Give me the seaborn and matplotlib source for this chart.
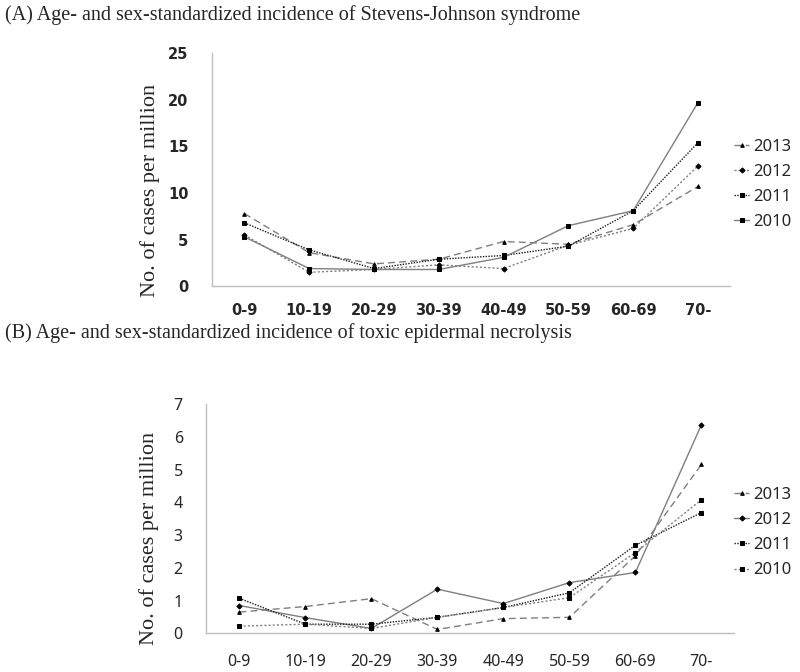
import numpy as np
import pandas as pd
import matplotlib
matplotlib.use("Agg")
import matplotlib.pyplot as plt
import seaborn as sns

# age groups and years
age_groups = ["0-9", "10-19", "20-29", "30-39", "40-49", "50-59", "60-69", "70-"]
years = ["2013", "2012", "2011", "2010"]

# (A) Stevens-Johnson syndrome, cases per million
sjs_2013 = [7.8, 3.6, 2.4, 2.9, 4.8, 4.5, 6.6, 10.7]
sjs_2012 = [5.5, 1.5, 1.8, 2.3, 1.9, 4.4, 6.2, 12.9]
sjs_2011 = [6.8, 3.9, 1.9, 2.9, 3.3, 4.3, 8.1, 15.4]
sjs_2010 = [5.3, 1.9, 1.8, 1.8, 3.1, 6.5, 8.1, 19.7]

# (B) toxic epidermal necrolysis, cases per million
ten_2013 = [0.65, 0.82, 1.06, 0.12, 0.45, 0.49, 2.37, 5.16]
ten_2012 = [0.85, 0.48, 0.15, 1.35, 0.91, 1.55, 1.86, 6.37]
ten_2011 = [1.07, 0.28, 0.28, 0.49, 0.79, 1.24, 2.69, 3.69]
ten_2010 = [0.22, 0.28, 0.15, 0.49, 0.79, 1.09, 2.47, 4.08]


def long_table(series):
    rows = []
    for year, vals in zip(years, series):
        for i, v in enumerate(vals):
            rows.append({"pos": i, "year": year, "value": v})
    return pd.DataFrame(rows)


sns.set_style("white")
plt.rcParams["font.family"] = ["Noto Sans", "DejaVu Sans"]

fig = plt.figure(figsize=(8, 6.72), dpi=100)
axA = fig.add_axes([0.265, 0.574, 0.648, 0.347])
axB = fig.add_axes([0.258, 0.0575, 0.66, 0.341])

GRAY = "#7f7f7f"
BLACK = "#1a1a1a"

# styles per panel: (color, dashes, marker)
styleA = {
    "2013": (GRAY, (5, 3), "^"),
    "2012": (GRAY, (1.5, 1.5), "D"),
    "2011": (BLACK, (1, 1), "s"),
    "2010": (GRAY, "", "s"),
}
styleB = {
    "2013": (GRAY, (5, 3), "^"),
    "2012": (GRAY, "", "D"),
    "2011": (BLACK, (1, 1), "s"),
    "2010": (GRAY, (1.5, 1.5), "s"),
}


def draw(ax, series, styles, ymax, ystep, bold, ticksize, xlabpad, legend_y, ylab_xy):
    df = long_table(series)
    sns.lineplot(data=df, x="pos", y="value", hue="year", style="year",
                 hue_order=years, style_order=years,
                 palette={y: styles[y][0] for y in years},
                 dashes={y: styles[y][1] for y in years},
                 markers={y: styles[y][2] for y in years},
                 markersize=2.6, markeredgecolor="black", markerfacecolor="black",
                 linewidth=1.0, ax=ax, legend=True)
    ax.set_xlim(-0.5, len(age_groups) - 0.5)
    ax.set_ylim(0, ymax)
    ax.set_yticks(np.arange(0, ymax + 0.01, ystep))
    ax.set_xticks(np.arange(-0.5, len(age_groups), 1.0))
    ax.set_xticklabels([])
    ax.set_xticks(np.arange(len(age_groups)), minor=True)
    if bold:
        tfont = dict(fontsize=ticksize, fontweight="bold", family="DejaVu Sans")
    else:
        tfont = dict(fontsize=ticksize, fontweight="normal", family="Noto Sans")
    ax.set_xticklabels(age_groups, minor=True, **tfont)
    ax.set_yticklabels([f"{v:g}" for v in np.arange(0, ymax + 0.01, ystep)], **tfont)
    ax.tick_params(axis="x", which="minor", length=0, pad=xlabpad)
    ax.tick_params(axis="x", which="major", length=5, color="#bfbfbf", direction="out")
    ax.tick_params(axis="y", length=5, color="#bfbfbf", direction="out", pad=12)
    for s in ["top", "right"]:
        ax.spines[s].set_visible(False)
    for s in ["left", "bottom"]:
        ax.spines[s].set_color("#bfbfbf")
        ax.spines[s].set_linewidth(1.0)
    ax.set_xlabel("")
    ax.set_ylabel("No. of cases per million", family=["Liberation Serif", "DejaVu Serif"],
                  fontsize=16)
    ax.yaxis.set_label_coords(*ylab_xy)
    handles, labels = ax.get_legend_handles_labels()
    ax.legend(handles, labels, loc="center left", bbox_to_anchor=(0.918, legend_y),
              bbox_transform=fig.transFigure, borderaxespad=0, borderpad=0,
              frameon=False, fontsize=12, handlelength=0.9, handletextpad=0.25,
              labelspacing=0.55)


draw(axA, [sjs_2013, sjs_2012, sjs_2011, sjs_2010], styleA, 25, 5, True, 10.5, 12,
     0.7254, (-0.1, 0.412))
draw(axB, [ten_2013, ten_2012, ten_2011, ten_2010], styleB, 7, 1, False, 11.5, 15,
     0.2073, (-0.09, 0.415))

serif = ["Liberation Serif", "DejaVu Serif"]
fig.text(0.006, 0.978, "(A) Age- and sex-standardized incidence of Stevens-Johnson syndrome",
         family=serif, fontsize=14.5, va="center", ha="left")
fig.text(0.006, 0.505, "(B) Age- and sex-standardized incidence of toxic epidermal necrolysis",
         family=serif, fontsize=14.5, va="center", ha="left")

fig.savefig("out.png", dpi=100)
